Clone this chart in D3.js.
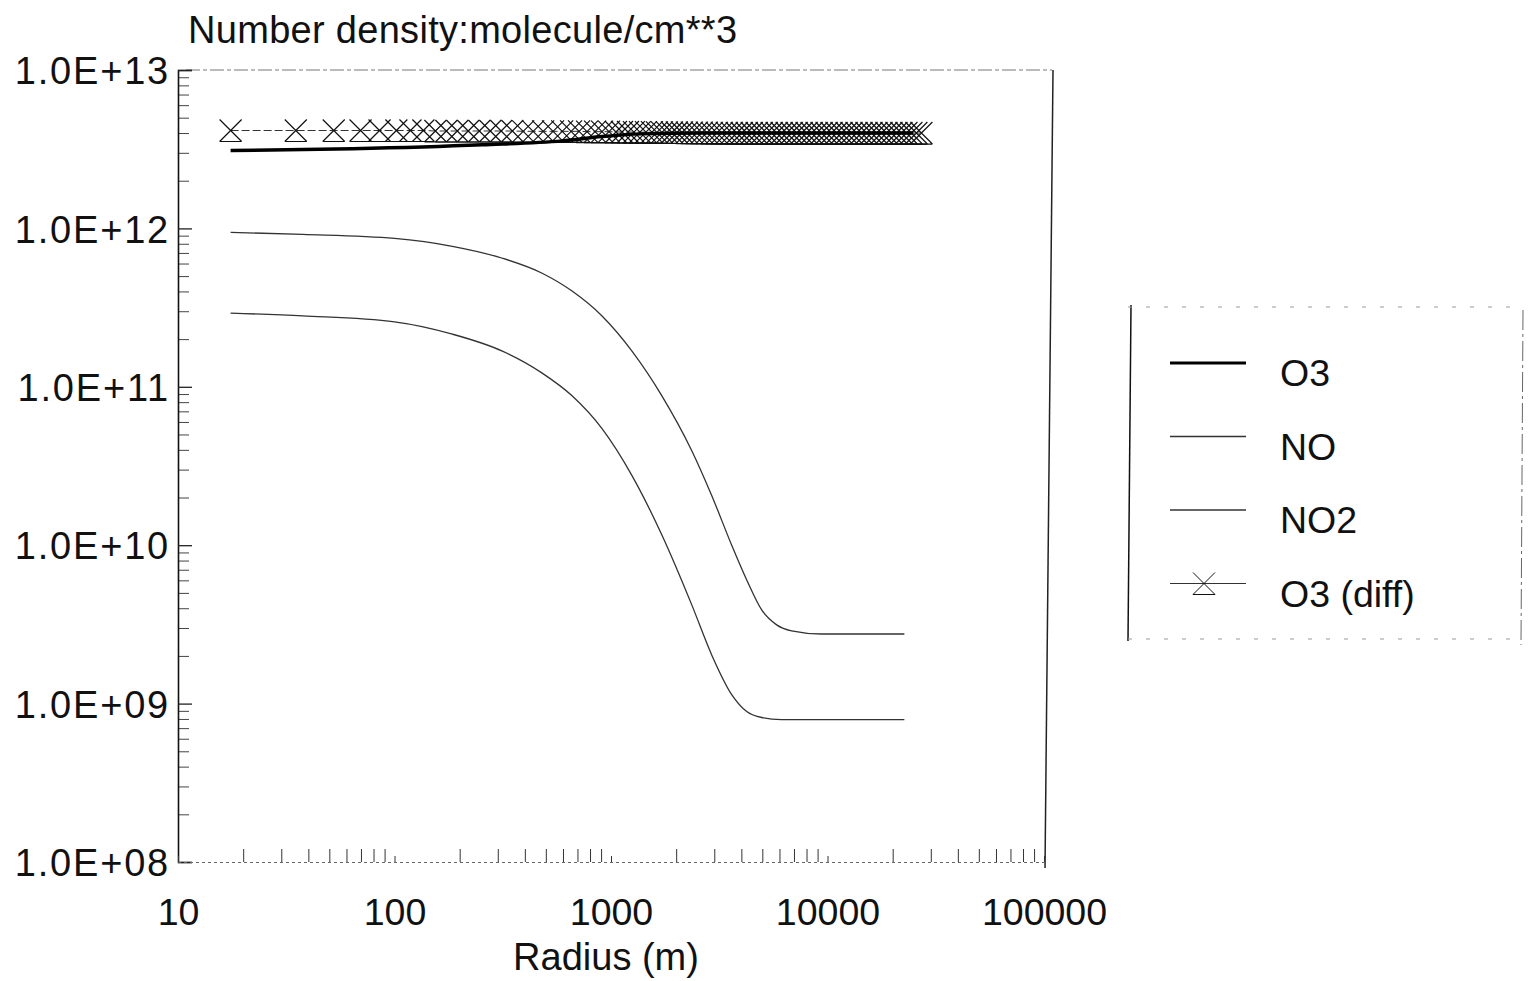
<!DOCTYPE html>
<html>
<head>
<meta charset="utf-8">
<script src="https://cdn.jsdelivr.net/npm/d3@7"></script>
<style>
  html, body { margin: 0; padding: 0; background: #fff; }
  svg { display: block; }
  text { font-family: "Liberation Sans", Arial, Helvetica, sans-serif; fill: #111; }
</style>
</head>
<body>
<svg id="chart" width="1532" height="981"></svg>
<script>
// ---------------- data ----------------
const title = "Number density:molecule/cm**3";
const xLabel = "Radius (m)";
const xTickValues = [10, 100, 1000, 10000, 100000];
const xTickLabels = ["10", "100", "1000", "10000", "100000"];
const yTickValues = [1e8, 1e9, 1e10, 1e11, 1e12, 1e13];
const yTickLabels = ["1.0E+08", "1.0E+09", "1.0E+10", "1.0E+11", "1.0E+12", "1.0E+13"];
const seriesNames = ["O3", "NO", "NO2", "O3 (diff)"];

const o3Radius = [17.5, 64, 254, 595, 909, 1380, 2624, 6000, 12000, 24900];
const o3Values = [3.10e12, 3.18e12, 3.37e12, 3.57e12, 3.80e12, 3.95e12, 4.0e12, 4.0e12, 4.0e12, 4.0e12];

const noRadius = [17.5, 37.7, 100, 185, 315, 481, 661, 909, 1250, 1718, 2361, 2918, 3610, 4236, 4966, 5823, 6823, 9376, 14340, 22650];
const noValues = [9.44e11, 9.17e11, 8.65e11, 7.71e11, 6.48e11, 5.21e11, 4.02e11, 2.80e11, 1.68e11, 8.77e10, 3.95e10, 2.06e10, 1.0e10, 6.03e9, 3.90e9, 3.14e9, 2.88e9, 2.75e9, 2.75e9, 2.75e9];

const no2Radius = [17.5, 37.7, 100, 185, 315, 481, 661, 909, 1250, 1718, 2361, 2918, 3610, 4236, 4966, 6138, 9376, 22650];
const no2Values = [2.92e11, 2.80e11, 2.57e11, 2.15e11, 1.68e11, 1.22e11, 8.77e10, 5.44e10, 2.75e10, 1.16e10, 4.20e9, 2.03e9, 1.14e9, 8.91e8, 8.17e8, 7.93e8, 7.93e8, 7.93e8];

const o3diffRadius = [17.5, 35.0, 52.4, 69.7, 85.3, 102, 118.5, 136, 154.5, 173.6, 195, 219, 246.5, 277, 311, 350, 393, 437, 486, 540,
  595, 654, 712, 775, 844, 909, 979, 1054, 1124, 1198, 1276, 1360, 1450, 1545, 1629, 1718, 1812, 1911, 2015, 2125,
  2241, 2363, 2492, 2628, 2771, 2922, 3081, 3249, 3426, 3613, 3810, 4018, 4237, 4468, 4711, 4968, 5239, 5524, 5825, 6143,
  6478, 6831, 7203, 7596, 8010, 8446, 8907, 9392, 9904, 10440, 11010, 11610, 12250, 12910, 13620, 14360, 15140, 15970, 16840, 17760,
  18720, 19740, 20820, 21950, 23150, 24410, 25740, 27150];
const o3diffValues = [4.15e12, 4.15e12, 4.15e12, 4.15e12, 4.15e12, 4.15e12, 4.15e12, 4.15e12, 4.12e12, 4.12e12, 4.12e12, 4.12e12, 4.12e12, 4.12e12, 4.12e12, 4.12e12, 4.10e12, 4.10e12, 4.10e12, 4.10e12,
  4.10e12, 4.10e12, 4.10e12, 4.08e12, 4.08e12, 4.08e12, 4.08e12, 4.06e12, 4.06e12, 4.06e12, 4.05e12, 4.05e12, 4.05e12, 4.05e12, 4.04e12, 4.04e12, 4.04e12, 4.03e12, 4.03e12, 4.03e12,
  4.02e12, 4.02e12, 4.02e12, 4.02e12, 4.02e12, 4.01e12, 4.01e12, 4.01e12, 4.01e12, 4.01e12, 4.0e12, 4.0e12, 4.0e12, 4.0e12, 4.0e12, 4.0e12, 4.0e12, 4.0e12, 4.0e12, 4.0e12,
  4.0e12, 4.0e12, 4.0e12, 4.0e12, 4.0e12, 4.0e12, 4.0e12, 4.0e12, 4.0e12, 4.0e12, 4.0e12, 4.0e12, 4.0e12, 4.0e12, 4.0e12, 4.0e12, 4.0e12, 4.0e12, 4.0e12, 4.0e12,
  4.0e12, 4.0e12, 4.0e12, 4.0e12, 4.0e12, 4.0e12, 4.0e12, 4.0e12];

// ---------------- layout ----------------
const svg = d3.select("#chart");
const X0 = 178, X1 = 1044, Y0 = 862, Y1 = 70;
const x = d3.scaleLog().domain([10, 1e5]).range([X0, X1]);
const y = d3.scaleLog().domain([1e8, 1e13]).range([Y0, Y1]);
const FS = 37.5;

svg.append("rect").attr("width", 1532).attr("height", 981).attr("fill", "#fff");

// frame: top (faint dashed) and right (solid)
svg.append("line").attr("x1", X0 + 8).attr("x2", X1 + 8).attr("y1", Y1).attr("y2", Y1)
  .attr("stroke", "#777").attr("stroke-width", 1).attr("stroke-dasharray", "14,3,4,3");
svg.append("line").attr("x1", X1 + 9).attr("x2", X1 + 1).attr("y1", Y1).attr("y2", Y0 + 6)
  .attr("stroke", "#222").attr("stroke-width", 1.5);

// y axis minor ticks (inside)
const yMinor = y.ticks().filter(v => !yTickValues.includes(v));
svg.append("g").attr("transform", `translate(${X0},0)`)
  .call(d3.axisLeft(y).tickValues(yMinor).tickSize(-11).tickFormat(""))
  .call(g => g.select(".domain").remove())
  .call(g => g.selectAll("line").attr("stroke", "#444").attr("stroke-width", 1));
// y axis major ticks + labels
svg.append("g").attr("transform", `translate(${X0},0)`)
  .call(d3.axisLeft(y).tickValues(yTickValues).tickSize(-14).tickPadding(8)
    .tickFormat((d, i) => yTickLabels[i]))
  .call(g => g.select(".domain").attr("stroke", "#111").attr("stroke-width", 1.6))
  .call(g => g.selectAll("line").attr("stroke", "#222").attr("stroke-width", 1.3))
  .call(g => g.selectAll("text").attr("font-size", 38).attr("fill", "#111")
    .attr("letter-spacing", "1.8px")
    .attr("font-family", "Liberation Sans, Arial, sans-serif").attr("dy", "0.36em"));

// x axis minor ticks (inside)
const xMinor = x.ticks().filter(v => !xTickValues.includes(v));
svg.append("g").attr("transform", `translate(0,${Y0})`)
  .call(d3.axisBottom(x).tickValues(xMinor).tickSize(-13).tickFormat(""))
  .call(g => g.select(".domain").remove())
  .call(g => g.selectAll("line").attr("stroke", "#333").attr("stroke-width", 1));
svg.append("g").attr("transform", `translate(0,${Y0})`)
  .call(d3.axisBottom(x).tickValues(xTickValues).tickSize(-6).tickPadding(36)
    .tickFormat((d, i) => xTickLabels[i]))
  .call(g => g.select(".domain").attr("stroke", "#666").attr("stroke-width", 1).attr("stroke-dasharray", "3,3"))
  .call(g => g.selectAll("line").attr("stroke", "#333").attr("stroke-width", 1))
  .call(g => g.selectAll("text").attr("font-size", FS).attr("fill", "#111")
    .attr("font-family", "Liberation Sans, Arial, sans-serif"));

// title and axis label
svg.append("text").attr("x", 188).attr("y", 43).attr("font-size", 38).attr("letter-spacing", "0.3px").text(title);
svg.append("text").attr("x", 606).attr("y", 970).attr("text-anchor", "middle").attr("font-size", 38).text(xLabel);

// ---------------- series ----------------
const line = d3.line().x(d => x(d[0])).y(d => y(d[1])).curve(d3.curveMonotoneX);
const zip = (a, b) => a.map((v, i) => [v, b[i]]);

const markerPath = "M-11,-11L11,11M11,-11L-11,11M-11,11L11,11";

// O3 (diff): thin dashed connecting line + markers
svg.append("path").datum(zip(o3diffRadius, o3diffValues))
  .attr("d", line).attr("fill", "none").attr("stroke", "#333").attr("stroke-width", 1)
  .attr("stroke-dasharray", "8,3");
svg.append("g").selectAll("path").data(zip(o3diffRadius, o3diffValues)).join("path")
  .attr("transform", d => `translate(${x(d[0])},${y(d[1])})`)
  .attr("d", markerPath).attr("fill", "none").attr("stroke", "#111").attr("stroke-width", 1.2);

// NO and NO2 thin lines
svg.append("path").datum(zip(noRadius, noValues))
  .attr("d", line).attr("fill", "none").attr("stroke", "#333").attr("stroke-width", 1.3);
svg.append("path").datum(zip(no2Radius, no2Values))
  .attr("d", line).attr("fill", "none").attr("stroke", "#333").attr("stroke-width", 1.3);

// O3 thick line
svg.append("path").datum(zip(o3Radius, o3Values))
  .attr("d", line).attr("fill", "none").attr("stroke", "#000").attr("stroke-width", 3.4);

// ---------------- legend ----------------
const lg = svg.append("g").attr("transform", "translate(1128,305)");
lg.append("line").attr("x1", 3).attr("x2", 0).attr("y1", 0).attr("y2", 336).attr("stroke", "#111").attr("stroke-width", 1.5);
lg.append("line").attr("x1", 0).attr("x2", 395).attr("y1", 2).attr("y2", 2).attr("stroke", "#999").attr("stroke-width", 1).attr("stroke-dasharray", "4,14");
lg.append("line").attr("x1", 0).attr("x2", 395).attr("y1", 334).attr("y2", 334).attr("stroke", "#999").attr("stroke-width", 1).attr("stroke-dasharray", "4,14");
lg.append("line").attr("x1", 395).attr("x2", 393).attr("y1", 5).attr("y2", 340).attr("stroke", "#666").attr("stroke-width", 1).attr("stroke-dasharray", "20,4,3,4");

const legendRows = [
  { name: seriesNames[0], w: 3, marker: false },
  { name: seriesNames[1], w: 1.3, marker: false },
  { name: seriesNames[2], w: 1.3, marker: false },
  { name: seriesNames[3], w: 1.2, marker: true }
];
legendRows.forEach((r, i) => {
  const cy = 58 + i * 73.5;
  lg.append("line").attr("x1", 42).attr("x2", 118).attr("y1", cy).attr("y2", cy)
    .attr("stroke", i === 0 ? "#000" : "#333").attr("stroke-width", r.w);
  if (r.marker) {
    lg.append("path").attr("transform", `translate(76,${cy})`).attr("d", markerPath)
      .attr("fill", "none").attr("stroke", "#111").attr("stroke-width", 1);
  }
  lg.append("text").attr("x", 152).attr("y", cy + 23).attr("font-size", FS).text(r.name);
});
</script>
</body>
</html>
